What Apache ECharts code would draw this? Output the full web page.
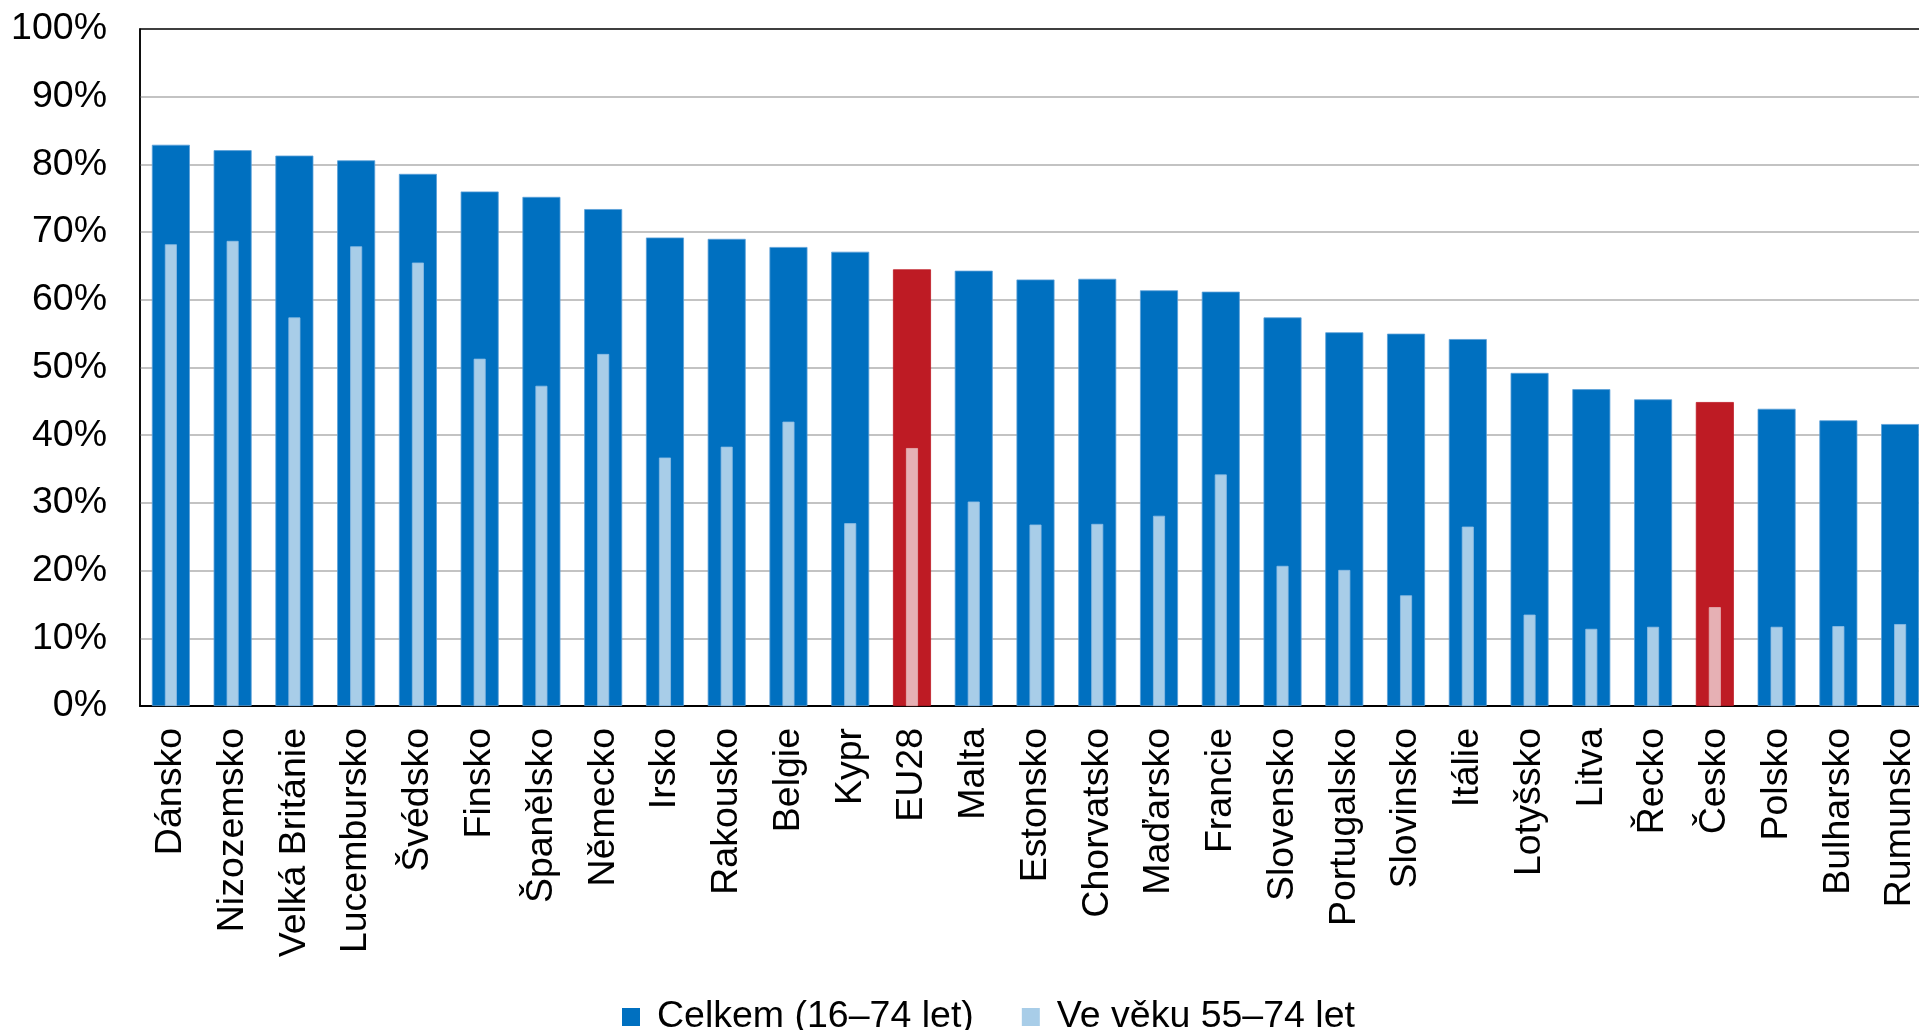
<!DOCTYPE html>
<html>
<head>
<meta charset="utf-8">
<script src="https://cdn.jsdelivr.net/npm/echarts@6/dist/echarts.min.js"></script>
<style>
html,body{margin:0;padding:0;background:#fff;overflow:hidden;width:1919px;height:1030px;}
#chart{width:1950px;height:1030px;}
</style>
</head>
<body>
<div id="chart"></div>
<script>
const categories = ['Dánsko','Nizozemsko','Velká Británie','Lucembursko','Švédsko','Finsko','Španělsko','Německo','Irsko','Rakousko','Belgie','Kypr','EU28','Malta','Estonsko','Chorvatsko','Maďarsko','Francie','Slovensko','Portugalsko','Slovinsko','Itálie','Lotyšsko','Litva','Řecko','Česko','Polsko','Bulharsko','Rumunsko'];
const totalValues = [82.9,82.1,81.3,80.6,78.6,76.0,75.2,73.4,69.2,69.0,67.8,67.1,64.5,64.3,63.0,63.1,61.4,61.2,57.4,55.2,55.0,54.2,49.2,46.8,45.3,44.9,43.9,42.2,41.65];
const olderValues = [68.2,68.7,57.4,67.9,65.5,51.3,47.3,52.0,36.7,38.3,42.0,27.0,38.1,30.2,26.8,26.9,28.1,34.2,20.7,20.1,16.35,26.5,13.5,11.4,11.7,14.6,11.7,11.8,12.1];
const highlighted = ['EU28','Česko'];
const seriesNames = ['Celkem (16–74 let)','Ve věku 55–74 let'];
const yTicks = [0,10,20,30,40,50,60,70,80,90,100];

const DARK = '#0070C0', LIGHT = '#A8CDE8', RED = '#BE1B24', PINK = '#E6B0B4';
const FONT = 'Liberation Sans, Arial, sans-serif';

const chart = echarts.init(document.getElementById('chart'));
chart.setOption({
  animation: false,
  backgroundColor: '#fff',
  textStyle: {fontFamily: FONT},
  grid: {left: 140, right: 19, top: 29, bottom: 324, show: true, borderColor: '#000', borderWidth: 1.5, containLabel: false},
  legend: {
    left: 617, top: 993, itemWidth: 18, itemHeight: 18, itemGap: 48,
    icon: 'rect',
    itemStyle: {borderWidth: 0},
    textStyle: {fontSize: 37.5, color: '#000', fontFamily: FONT, padding: [0,0,0,12]},
    data: seriesNames
  },
  xAxis: [
    {type: 'category', data: categories, gridIndex: 0,
     axisLine: {show: true, lineStyle: {color: '#000', width: 2}},
     axisTick: {show: false},
     axisLabel: {rotate: 90, interval: 0, margin: 22, fontSize: 37.5, color: '#000', fontFamily: FONT}},
    {type: 'category', data: categories, gridIndex: 0, show: false}
  ],
  yAxis: {
    type: 'value', min: yTicks[0], max: yTicks[yTicks.length-1], interval: 10,
    axisLine: {show: true, lineStyle: {color: '#000', width: 1.5}},
    axisTick: {show: false},
    splitLine: {show: true, showMaxLine: false, showMinLine: false, lineStyle: {color: '#C3C3C3', width: 2}},
    axisLabel: {margin: 33, fontSize: 37.5, color: '#000', fontFamily: FONT, formatter: '{value}%'}
  },
  series: [
    {name: seriesNames[0], type: 'bar', xAxisIndex: 0, barWidth: 38,
     itemStyle: {color: DARK, borderColor: '#5a9fd8', borderWidth: 0.8},
     data: totalValues.map((v,i) => highlighted.includes(categories[i]) ? {value: v, itemStyle: {color: RED, borderColor: RED}} : v)},
    {name: seriesNames[1], type: 'bar', xAxisIndex: 1, barWidth: 12,
     itemStyle: {color: LIGHT, borderColor: '#8dbde4', borderWidth: 0.8},
     data: olderValues.map((v,i) => highlighted.includes(categories[i]) ? {value: v, itemStyle: {color: PINK, borderColor: PINK}} : v)}
  ]
});
</script>
</body>
</html>
